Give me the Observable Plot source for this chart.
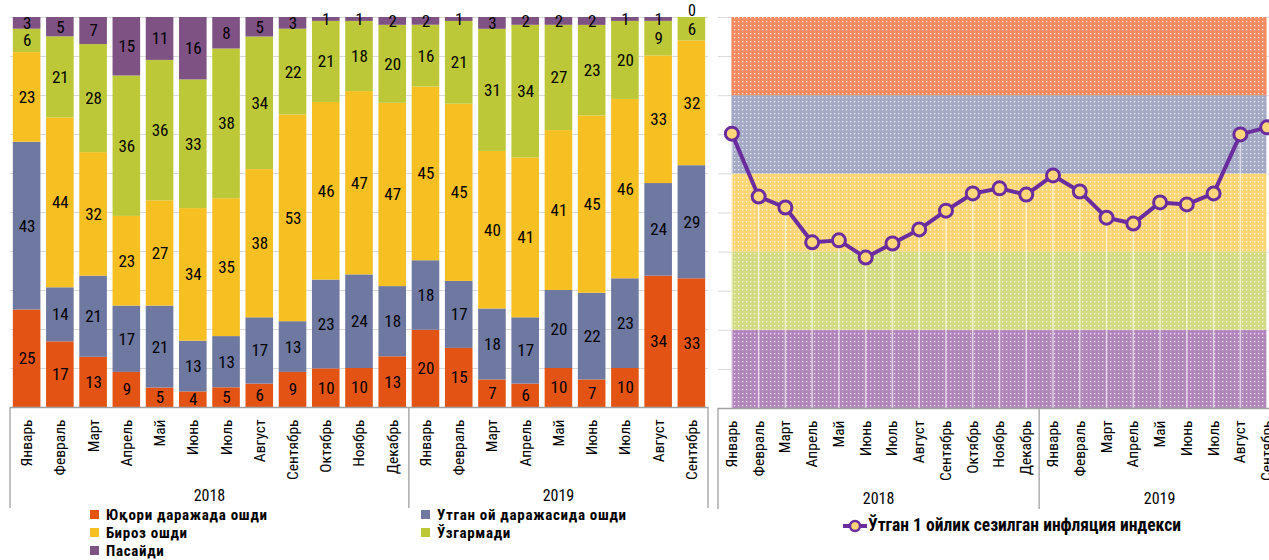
<!DOCTYPE html>
<html>
<head>
<meta charset="utf-8">
<script src="https://cdn.jsdelivr.net/npm/d3@7"></script>
<script src="https://cdn.jsdelivr.net/npm/@observablehq/plot@0.6"></script>
<style>
  html, body { margin: 0; padding: 0; background: #fff; }
  body { width: 1269px; height: 560px; overflow: hidden; font-family: "Liberation Sans Narrow", "Arial Narrow", "Roboto Condensed", sans-serif; }
  #root { position: relative; width: 1269px; height: 560px; overflow: hidden; }
  .panel { position: absolute; top: 0; max-width: none !important; }
  .leg { position: absolute; font-weight: bold; font-size: 15px; letter-spacing: 0.7px; color: #000; white-space: nowrap; line-height: 15px; }
  .sw { display: inline-block; width: 9px; height: 9px; margin-right: 7px; vertical-align: 1px; }
</style>
</head>
<body>
<svg width="0" height="0" style="position:absolute">
  <defs>
    <pattern id="dots" width="4" height="4" patternUnits="userSpaceOnUse">
      <rect x="1" y="1" width="1.3" height="1.3" fill="#fff" fill-opacity="0.75"></rect>
    </pattern>
  </defs>
</svg>
<div id="root"></div>
<script>
// ---------- data ----------
const months2018 = ["Январь","Февраль","Март","Апрель","Май","Июнь","Июль","Август","Сентябрь","Октябрь","Ноябрь","Декабрь"];
const months2019 = ["Январь","Февраль","Март","Апрель","Май","Июнь","Июль","Август","Сентябрь"];
const years = ["2018", "2019"];
const periods = [
  ...months2018.map(m => "2018 " + m),
  ...months2019.map(m => "2019 " + m)
];

const seriesNames = ["Юқори даражада ошди", "Утган ой даражасида ошди", "Бироз ошди", "Ўзгармади", "Пасайди"];
const sHigh      = [25,17,13, 9, 5, 4, 5, 6, 9,10,10,13, 20,15, 7, 6,10, 7,10,34,33];
const sLastMonth = [43,14,21,17,21,13,13,17,13,23,24,18, 18,17,18,17,20,22,23,24,29];
const sSlight    = [23,44,32,23,27,34,35,38,53,46,47,47, 45,45,40,41,41,45,46,33,32];
const sSame      = [ 6,21,28,36,36,33,38,34,22,21,18,20, 16,21,31,34,27,23,20, 9, 6];
const sDown      = [ 3, 5, 7,15,11,16, 8, 5, 3, 1, 1, 2,  2, 1, 3, 2, 2, 2, 1, 1, 0];
const seriesValues = [sHigh, sLastMonth, sSlight, sSame, sDown];

const lineName = "Ўтган 1 ойлик сезилган инфляция индекси";
const inflationIndex = [70.3,54.2,51.4,42.5,43.0,38.6,42.2,45.8,50.6,55.0,56.3,54.7,
                        59.6,55.5,48.8,47.3,52.7,52.2,55.0,70.1,71.9];
const bandEdges = [0, 20, 40, 60, 80, 100];

// ---------- styles ----------
const FONT = `"Liberation Sans Narrow","Arial Narrow","Roboto Condensed",sans-serif`;
const seriesColors = ["#E35414", "#6F78A0", "#F6BF22", "#BCC837", "#7E5283"];
const bandColors = ["#B286BD", "#D3DB82", "#FDD575", "#A4AAC5", "#F28B60"];
const lineColor = "#6A2C9E";
const markerFill = "#FDD57A";

const yearOf = p => p.slice(0, 4);
const monthOf = p => p.slice(5);

const root = document.getElementById("root");

function addYearBrackets(chart, dims, opts) {
  const sx = chart.scale("x");
  const bw = sx.bandwidth || 0;
  const center = p => sx.apply(p) + bw / 2;
  const r0 = dims.marginLeft, r1 = dims.width - dims.marginRight;
  const bottomY = dims.height - dims.marginBottom;
  const svg = d3.select(chart);
  const bounds = [r0];
  years.forEach((y, i) => {
    if (i < years.length - 1) {
      const last = periods.filter(p => yearOf(p) === y).at(-1);
      const next = periods.filter(p => yearOf(p) === years[i + 1])[0];
      bounds.push((center(last) + center(next)) / 2);
    }
  });
  bounds.push(r1);
  const g = svg.append("g");
  bounds.forEach(b => {
    g.append("line").attr("x1", b).attr("x2", b)
      .attr("y1", bottomY).attr("y2", bottomY + opts.lineLen)
      .attr("stroke", "#a0a0a0").attr("stroke-width", 1.3);
  });
  years.forEach((y, i) => {
    g.append("text").attr("x", (bounds[i] + bounds[i + 1]) / 2)
      .attr("y", bottomY + opts.labelY)
      .attr("text-anchor", "middle").attr("dominant-baseline", "middle")
      .attr("font-family", FONT).attr("font-size", 16).attr("fill", "#000")
      .text(y);
  });
}

// ---------- left: stacked bars ----------
const leftData = periods.flatMap((p, i) =>
  seriesNames.map((s, j) => ({ period: p, series: s, value: seriesValues[j][i] })));

const H = 515;
const LD = { width: 712, height: H, marginLeft: 10, marginRight: 4, marginTop: 17, marginBottom: 108 };
const left = Plot.plot({
  ...LD,
  style: { fontFamily: FONT, fontSize: "15px", background: "transparent", color: "#000", overflow: "visible" },
  x: { domain: periods, paddingInner: 0.17, paddingOuter: 0.085, round: false, axis: null },
  y: { domain: [0, 1], axis: null },
  color: { domain: seriesNames, range: seriesColors },
  marks: [
    Plot.gridY(d3.range(0, 1.001, 0.1), { stroke: "#d9d9d9", strokeOpacity: 1 }),
    Plot.barY(leftData, { x: "period", y: "value", fill: "series", offset: "normalize" }),
    Plot.text(leftData, Plot.stackY({ x: "period", y: "value", z: "series", offset: "normalize",
      text: d => d.value > 0 ? String(d.value) : "", fontSize: 17, fill: "#000" })),
    Plot.text(leftData, Plot.stackY({ x: "period", y: "value", z: "series", offset: "normalize",
      text: d => d.value === 0 ? String(d.value) : "", fontSize: 16, fill: "#000", dy: -7 })),
    Plot.ruleY([0], { stroke: "#a0a0a0", strokeWidth: 1.3 }),
    Plot.axisX({ tickRotate: -90, tickSize: 0, tickPadding: 12, tickFormat: monthOf, fontSize: 15.5, fill: "#000", label: null })
  ]
});
addYearBrackets(left, LD, { lineLen: 101, labelY: 90 });
left.classList.add("panel");
left.style.left = "0px";
root.appendChild(left);

// ---------- right: perceived inflation line over bands ----------
const bandIds = bandColors.map((c, i) => "b" + i);
const bandData = bandIds.flatMap((b, j) => periods.map(p => ({ period: p, band: b, lo: bandEdges[j], hi: bandEdges[j + 1] })));
const lineData = periods.map((p, i) => ({ period: p, value: inflationIndex[i] }));

const RD = { width: 585, height: H, marginLeft: 13, marginRight: 10, marginTop: 17, marginBottom: 107 };
const right = Plot.plot({
  ...RD,
  style: { fontFamily: FONT, fontSize: "15px", background: "transparent", color: "#000", overflow: "visible" },
  x: { type: "point", domain: periods, padding: 0.5, round: false, axis: null },
  y: { domain: [0, 100], axis: null },
  color: { domain: bandIds, range: bandColors },
  marks: [
    Plot.gridY(d3.range(0, 101, 10), { stroke: "#d9d9d9", strokeOpacity: 1 }),
    Plot.areaY(bandData, { x: "period", y1: "lo", y2: "hi", z: "band", fill: "band" }),
    Plot.areaY(periods, { x: d => d, y1: () => bandEdges[0], y2: () => bandEdges.at(-1), fill: "url(#dots)" }),
    Plot.ruleX(lineData, { x: "period", y1: 0, y2: "value", stroke: "#fff", strokeOpacity: 0.6, strokeWidth: 1.5 }),
    Plot.lineY(lineData, { x: "period", y: "value", stroke: lineColor, strokeWidth: 4 }),
    Plot.dot(lineData, { x: "period", y: "value", r: 6.5, fill: markerFill, stroke: lineColor, strokeWidth: 3 }),
    Plot.ruleY([0], { stroke: "#a0a0a0", strokeWidth: 1.3 }),
    Plot.axisX({ tickRotate: -90, tickSize: 0, tickPadding: 12, tickFormat: monthOf, fontSize: 15.5, fill: "#000", label: null })
  ]
});
addYearBrackets(right, RD, { lineLen: 101, labelY: 92 });
right.classList.add("panel");
right.style.left = "705px";
root.appendChild(right);

// ---------- legends ----------
function legItem(name, color, x, y) {
  const d = document.createElement("div");
  d.className = "leg";
  d.style.left = x + "px";
  d.style.top = y + "px";
  d.innerHTML = `<span class="sw" style="background:${color}"></span>${name}`;
  root.appendChild(d);
}
legItem(seriesNames[0], seriesColors[0], 90, 508);
legItem(seriesNames[1], seriesColors[1], 421, 508);
legItem(seriesNames[2], seriesColors[2], 90, 526);
legItem(seriesNames[3], seriesColors[3], 421, 526);
legItem(seriesNames[4], seriesColors[4], 90, 543.5);

const ll = document.createElement("div");
ll.className = "leg";
ll.style.left = "842px";
ll.style.top = "518px";
ll.style.fontSize = "17.5px";
ll.style.letterSpacing = "0px";
ll.innerHTML = `<svg width="26" height="14" style="vertical-align:-2px"><line x1="1" x2="25" y1="7" y2="7" stroke="${lineColor}" stroke-width="4"/><circle cx="13" cy="7" r="5" fill="${markerFill}" stroke="${lineColor}" stroke-width="2.5"/></svg>${lineName}`;
root.appendChild(ll);
</script>
</body>
</html>
